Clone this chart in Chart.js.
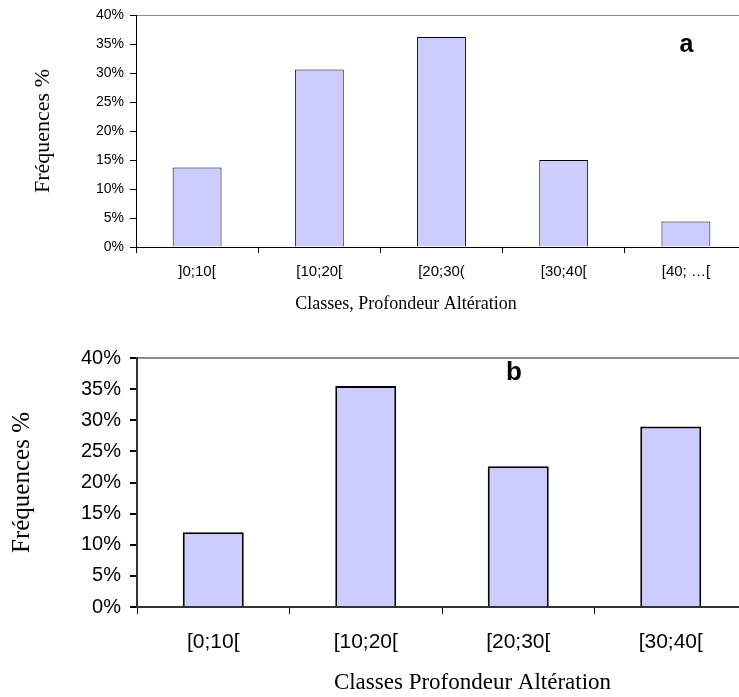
<!DOCTYPE html>
<html>
<head>
<meta charset="utf-8">
<script src="https://cdn.jsdelivr.net/npm/chart.js@4"></script>
<style>
  html, body { margin: 0; padding: 0; background: #fff; overflow: hidden; width: 739px; height: 697px; }
  canvas { position: absolute; left: 0; }
  #chartA { top: 0; }
  #chartB { top: 318px; }
</style>
</head>
<body>
<canvas id="chartA" width="747" height="318"></canvas>
<canvas id="chartB" width="747" height="379"></canvas>
<script>
// Frequency distribution of weathering depth classes (percent)
const classesA = [']0;10[', '[10;20[', '[20;30(', '[30;40[', '[40; …['];
const freqA = [13.7, 30.6, 36.2, 15.0, 4.4];

const classesB = ['[0;10[', '[10;20[', '[20;30[', '[30;40['];
const freqB = [12.0, 35.5, 22.6, 29.0];

const yTicks = [0, 5, 10, 15, 20, 25, 30, 35, 40];

const SANS = '"Liberation Sans", Arial, sans-serif';
const SERIF = '"Liberation Serif", "Times New Roman", serif';

// Panel letter and axis caption drawn relative to the plot area
const panelText = {
  id: 'panelText',
  afterDraw(chart, args, opts) {
    const { ctx, chartArea: a } = chart;
    ctx.save();
    ctx.fillStyle = '#000';
    ctx.textBaseline = 'alphabetic';
    ctx.textAlign = 'center';
    ctx.font = 'bold ' + opts.letterSize + 'px ' + SANS;
    ctx.fillText(opts.letter, a.left + opts.letterX * (a.right - a.left), a.top + opts.letterY * (a.bottom - a.top));
    ctx.textBaseline = 'middle';
    ctx.font = opts.captionSize + 'px ' + SERIF;
    ctx.fillText(opts.caption, a.left + opts.captionX * (a.right - a.left), chart.height - opts.captionBottom);
    ctx.restore();
  }
};

function makeChart(id, labels, values, cfg) {
  return new Chart(document.getElementById(id), {
    type: 'bar',
    data: {
      labels: labels,
      datasets: [{
        data: values,
        backgroundColor: '#ccccff',
        borderColor: '#000',
        borderWidth: cfg.barBorder,
        borderSkipped: 'bottom',
        barPercentage: 0.4,
        categoryPercentage: 1.0
      }]
    },
    options: {
      responsive: false,
      animation: false,
      layout: { padding: { top: cfg.top, left: 0, right: 0, bottom: 0 } },
      plugins: {
        legend: { display: false },
        tooltip: { enabled: false },
        panelText: cfg.text
      },
      scales: {
        x: {
          offset: true,
          grid: {
            offset: true,
            drawOnChartArea: false,
            drawTicks: true,
            tickLength: cfg.xTickLen,
            tickColor: '#000',
            color: '#000'
          },
          border: { display: true, color: cfg.axisColor, width: cfg.axisWidth },
          ticks: {
            color: '#000',
            font: { family: SANS, size: cfg.xTickSize },
            padding: cfg.xTickPad,
            maxRotation: 0,
            autoSkip: false
          },
          afterFit(scale) { scale.height = cfg.xHeight; }
        },
        y: {
          min: 0,
          max: 40,
          afterBuildTicks(scale) { scale.ticks = yTicks.map(v => ({ value: v })); },
          grid: {
            drawOnChartArea: true,
            drawTicks: true,
            tickLength: cfg.yTickLen,
            tickColor: '#000',
            lineWidth: cfg.topLineWidth,
            color: ctx => (ctx.tick && ctx.tick.value === 40) ? '#8c8c8c' : 'rgba(0,0,0,0)'
          },
          border: { display: true, color: cfg.axisColor, width: cfg.axisWidth },
          ticks: {
            color: '#000',
            font: { family: SANS, size: cfg.yTickSize },
            padding: cfg.yTickPad,
            callback: v => v + '%'
          },
          title: {
            display: true,
            text: 'Fréquences %',
            color: '#000',
            font: { family: SERIF, size: cfg.yTitleSize },
            padding: { top: cfg.yTitlePad, bottom: 0 }
          },
          afterFit(scale) { scale.width = cfg.yWidth; }
        }
      }
    },
    plugins: [panelText]
  });
}

makeChart('chartA', classesA, freqA, {
  top: 15, barBorder: 1, axisColor: '#000', axisWidth: 1, topLineWidth: 1,
  xTickLen: 6, xTickSize: 15, xTickPad: 10, xHeight: 71,
  yTickLen: 6, yTickSize: 14, yTickPad: 6, yWidth: 136,
  yTitleSize: 22, yTitlePad: 30,
  text: { letter: 'a', letterSize: 25, letterX: 0.901, letterY: 0.158,
          caption: 'Classes, Profondeur Altération', captionSize: 18, captionX: 0.442, captionBottom: 14 }
});

makeChart('chartB', classesB, freqB, {
  top: 40, barBorder: 2, axisColor: '#333', axisWidth: 2, topLineWidth: 2,
  xTickLen: 7, xTickSize: 21, xTickPad: 16, xHeight: 90,
  yTickLen: 7, yTickSize: 20, yTickPad: 9, yWidth: 137,
  yTitleSize: 25, yTitlePad: 7,
  text: { letter: 'b', letterSize: 26, letterX: 0.618, letterY: 0.0885,
          caption: 'Classes Profondeur Altération', captionSize: 23, captionX: 0.55, captionBottom: 14 }
});
</script>
</body>
</html>
